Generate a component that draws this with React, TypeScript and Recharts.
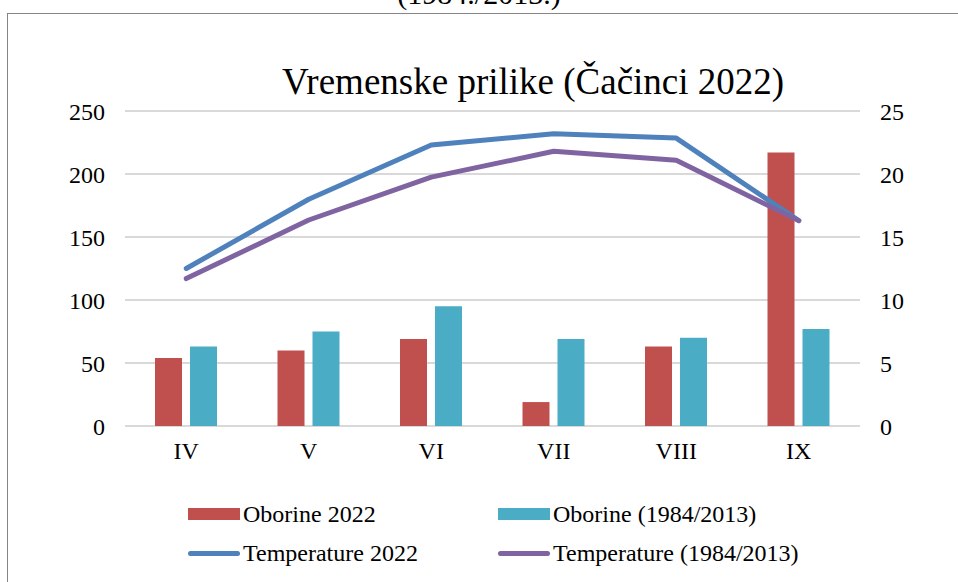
import { Bar, CartesianGrid, ComposedChart, Line, XAxis, YAxis } from 'recharts';

// months (April - September)
const months = ['IV', 'V', 'VI', 'VII', 'VIII', 'IX'];
// precipitation, mm
const oborine2022 = [54, 60, 69, 19, 63, 217];
const oborineProsjek = [63, 75, 95, 69, 70, 77];
// temperature, °C
const temp2022 = [12.5, 18.0, 22.3, 23.2, 22.85, 16.3];
const tempProsjek = [11.7, 16.35, 19.75, 21.8, 21.1, 16.3];

const leftTicks = [0, 50, 100, 150, 200, 250];
const rightTicks = [0, 5, 10, 15, 20, 25];

const SERIES = [
  { key: 'oborine2022', name: 'Oborine 2022', color: '#C0504D', kind: 'bar' },
  { key: 'oborineProsjek', name: 'Oborine (1984/2013)', color: '#4BACC6', kind: 'bar' },
  { key: 'temp2022', name: 'Temperature 2022', color: '#4F81BD', kind: 'line' },
  { key: 'tempProsjek', name: 'Temperature (1984/2013)', color: '#8064A2', kind: 'line' },
];

const FONT = '"Liberation Serif", "Times New Roman", serif';

const data = months.map((m, i) => ({
  month: m,
  oborine2022: oborine2022[i],
  oborineProsjek: oborineProsjek[i],
  temp2022: temp2022[i],
  tempProsjek: tempProsjek[i],
}));

const tickStyle = { fill: '#000', fontSize: 24, fontFamily: FONT };

export default function App() {
  return (
    <div
      style={{
        position: 'absolute',
        left: 0,
        top: 0,
        width: 958,
        height: 582,
        overflow: 'hidden',
        background: '#fff',
        fontFamily: FONT,
      }}
    >
      {/* text cut off at the top, as in the source page */}
      <div style={{ position: 'absolute', left: 0, width: 958, top: -21, textAlign: 'center', fontSize: 30, lineHeight: '30px' }}>
        (1984./2013.)
      </div>

      {/* chart border */}
      <div style={{ position: 'absolute', left: 7, top: 13, width: 1100, height: 800, border: '1px solid #868686' }} />

      <div style={{ position: 'absolute', left: 0, width: 1066, top: 63, textAlign: 'center', fontSize: 37, lineHeight: '37px' }}>
        Vremenske prilike (Čačinci 2022)
      </div>

      <div style={{ position: 'absolute', left: 0, top: 0 }}>
        <ComposedChart
          width={958}
          height={582}
          data={data}
          margin={{ top: 111, right: 0, bottom: 116, left: 0 }}
          barSize={27}
          barGap={8}
        >
          <CartesianGrid yAxisId="left" vertical={false} stroke="#d9d9d9" strokeWidth={2} />
          <XAxis
            dataKey="month"
            axisLine={false}
            tickLine={false}
            tickSize={0}
            tickMargin={16}
            height={40}
            tick={tickStyle}
          />
          <YAxis
            yAxisId="left"
            domain={[0, 250]}
            ticks={leftTicks}
            axisLine={false}
            tickLine={false}
            tickSize={0}
            tickMargin={20}
            width={125}
            tick={tickStyle}
          />
          <YAxis
            yAxisId="right"
            orientation="right"
            domain={[0, 25]}
            ticks={rightTicks}
            axisLine={false}
            tickLine={false}
            tickSize={0}
            tickMargin={20}
            width={98}
            tick={{ ...tickStyle, textAnchor: 'start' }}
          />
          {SERIES.filter((s) => s.kind === 'bar').map((s) => (
            <Bar key={s.key} yAxisId="left" dataKey={s.key} name={s.name} fill={s.color} isAnimationActive={false} />
          ))}
          {SERIES.filter((s) => s.kind === 'line').map((s) => (
            <Line
              key={s.key}
              yAxisId="right"
              type="linear"
              dataKey={s.key}
              name={s.name}
              stroke={s.color}
              strokeWidth={5}
              strokeLinecap="round"
              strokeLinejoin="round"
              dot={false}
              activeDot={false}
              isAnimationActive={false}
            />
          ))}
        </ComposedChart>
      </div>

      {/* Legend */}
      {SERIES.map((s, i) => {
        const left = i % 2 === 0 ? 188 : 498;
        const top = i < 2 ? 502 : 541;
        return (
          <div key={s.key} style={{ position: 'absolute', left, top, height: 24, display: 'flex', alignItems: 'center', fontSize: 24, lineHeight: '24px' }}>
            {s.kind === 'bar' ? (
              <div style={{ width: 52, height: 12, background: s.color }} />
            ) : (
              <div style={{ width: 52, height: 5, borderRadius: 3, background: s.color }} />
            )}
            <span style={{ marginLeft: 3 }}>{s.name}</span>
          </div>
        );
      })}
    </div>
  );
}
